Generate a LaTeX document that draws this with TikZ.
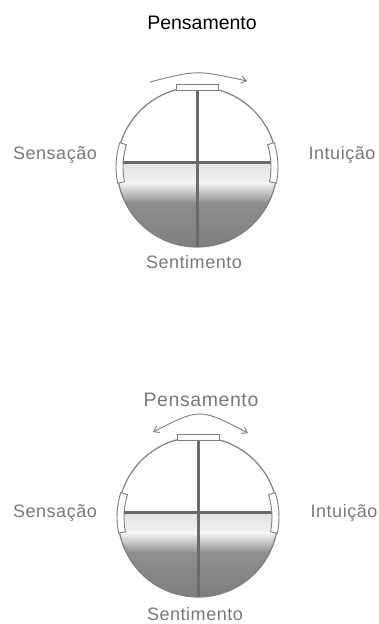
\documentclass[tikz,border=0pt]{standalone}
\usepackage{fontspec}
\usetikzlibrary{arrows.meta}
\newfontfamily\titlefont{Liberation Sans}
\newfontfamily\lblfont[LetterSpace=3]{Liberation Sans}
\definecolor{ringgray}{HTML}{7E7E7E}
\definecolor{bargray}{HTML}{6A6A6A}
\definecolor{lightfill}{HTML}{F3F3F3}
\definecolor{midfill}{HTML}{E2E2E2}
\definecolor{darkfill}{HTML}{8E8E8E}
\definecolor{deepfill}{HTML}{7E7E7E}
\definecolor{lblgray}{HTML}{787878}
\tikzset{
  ring/.style={draw=ringgray, line width=1.2pt},
  crossbar/.style={draw=bargray, line width=3pt},
  bracketbox/.style={draw=ringgray, fill=white, line width=0.9pt},
  turnarrow/.style={draw=ringgray, line width=0.9pt},
  lbl/.style={text=lblgray, font=\lblfont\fontsize{18}{20}\selectfont, anchor=base, inner sep=0pt},
  ttl/.style={text=black, font=\titlefont\fontsize{19.5}{22}\selectfont, anchor=base, inner sep=0pt},
}
\newcommand{\dialdraw}{%
  \begin{scope}
    \clip (0,0) circle[radius=80];
    \shade[top color=midfill, bottom color=lightfill] (-81,4) rectangle (81,-16);
    \shade[top color=lightfill, bottom color=darkfill] (-81,-16) rectangle (81,-36);
    \shade[top color=darkfill, bottom color=deepfill] (-81,-36) rectangle (81,-81);
  \end{scope}
  \draw[ring] (0,0) circle[radius=80];
  \draw[crossbar] (0,77) -- (0,-80);
  \draw[crossbar] (-74,4) -- (74,4);
  \draw[bracketbox] (-21,77) rectangle (21,83);
  \draw[bracketbox] (162.5:81) arc[start angle=162.5, end angle=191.5, radius=81]
     -- (191.5:74) arc[start angle=191.5, end angle=162.5, radius=74] -- cycle;
  \draw[bracketbox] (-11.5:81) arc[start angle=-11.5, end angle=17.5, radius=81]
     -- (17.5:74) arc[start angle=17.5, end angle=-11.5, radius=74] -- cycle;
}
\begin{document}
\begin{tikzpicture}[x=1pt,y=1pt]
\useasboundingbox (0,0) rectangle (379,624);
% first dial
\node[ttl] (pens1) at (202,594) {Pensamento};
\begin{scope}[shift={(197,457)}]
  \dialdraw
  \coordinate (a1s) at (-47,85);
  \coordinate (a1c) at (0,97);
  \coordinate (a1e) at (50,86);
  \draw[turnarrow, -{Straight Barb[length=5pt,width=7pt]}] (a1s) .. controls (a1c) .. (a1e);
\end{scope}
\node[lbl] (sens1) at (55,464) {Sensação};
\node[lbl] (intu1) at (342,464) {Intuição};
\node[lbl] (sent1) at (194,355) {Sentimento};
% second dial
\node[lbl, font=\lblfont\fontsize{19.5}{22}\selectfont] (pens2) at (201,217) {Pensamento};
\begin{scope}[shift={(198,107)}]
  \dialdraw
  \coordinate (a2s) at (-45,85);
  \coordinate (a2c) at (2,109);
  \coordinate (a2e) at (50,84);
  \draw[turnarrow, {Straight Barb[length=5pt,width=7pt]}-{Straight Barb[length=5pt,width=7pt]}] (a2s) .. controls (a2c) .. (a2e);
\end{scope}
\node[lbl] (sens2) at (55,106) {Sensação};
\node[lbl] (intu2) at (344,106) {Intuição};
\node[lbl] (sent2) at (195,3) {Sentimento};
\end{tikzpicture}
\end{document}
